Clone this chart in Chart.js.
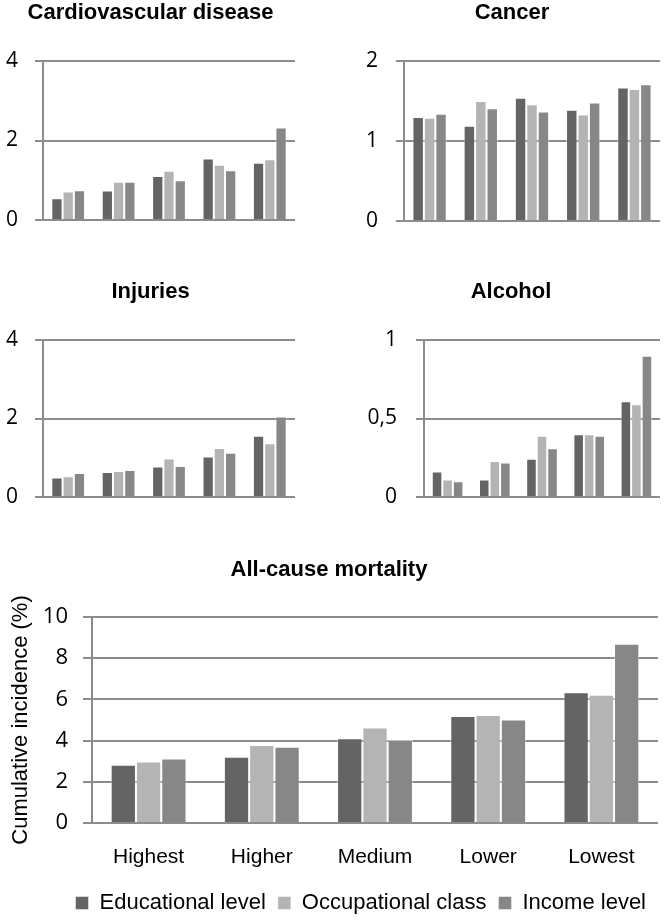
<!DOCTYPE html>
<html>
<head>
<meta charset="utf-8">
<title>Cumulative incidence by socioeconomic position</title>
<script src="https://cdn.jsdelivr.net/npm/chart.js@4.4.1/dist/chart.umd.min.js"></script>
<style>
html, body { margin: 0; padding: 0; background: #fff; overflow: hidden; }
body { width: 666px; height: 921px; position: relative; }
canvas { position: absolute; }
#cvd { left: 6px; top: 0; }
#cancer { left: 364px; top: 0; }
#injuries { left: 6px; top: 270px; }
#alcohol { left: 362px; top: 270px; }
#allcause { left: 0; top: 540px; }
</style>
</head>
<body>
<canvas id="cvd" width="289" height="260"></canvas>
<canvas id="cancer" width="296" height="261"></canvas>
<canvas id="injuries" width="289" height="267"></canvas>
<canvas id="alcohol" width="298" height="267"></canvas>
<canvas id="allcause" width="666" height="384"></canvas>
<script>
// categories and series
var groups = ['Highest', 'Higher', 'Medium', 'Lower', 'Lowest'];
var seriesNames = ['Educational level', 'Occupational class', 'Income level'];

// cumulative incidence (%)
var cvdEdu = [0.55, 0.74, 1.11, 1.55, 1.44];
var cvdOcc = [0.72, 0.96, 1.24, 1.39, 1.53];
var cvdInc = [0.75, 0.96, 1.00, 1.25, 2.33];

var cancerEdu = [1.30, 1.19, 1.54, 1.39, 1.67];
var cancerOcc = [1.29, 1.50, 1.46, 1.33, 1.65];
var cancerInc = [1.34, 1.41, 1.37, 1.48, 1.71];

var injEdu = [0.50, 0.64, 0.78, 1.03, 1.56];
var injOcc = [0.53, 0.66, 0.98, 1.25, 1.37];
var injInc = [0.61, 0.69, 0.79, 1.13, 2.05];

var alcEdu = [0.163, 0.112, 0.243, 0.40, 0.61];
var alcOcc = [0.112, 0.23, 0.39, 0.40, 0.59];
var alcInc = [0.10, 0.22, 0.31, 0.39, 0.90];

var allEdu = [2.83, 3.21, 4.11, 5.19, 6.35];
var allOcc = [2.98, 3.79, 4.63, 5.24, 6.22];
var allInc = [3.13, 3.70, 4.03, 5.02, 8.70];

var colors = ['#646464', '#b4b4b4', '#878787'];
var gridColor = '#8c8c8c';
var sansFont = "'Liberation Sans', Arial, sans-serif";
var numFont = "'Open Sans', 'Noto Sans', sans-serif";

Chart.defaults.animation = false;
Chart.defaults.color = '#000';

function makeSets(a, b, c) {
	return [a, b, c].map(function(vals, i) {
		return {
			label: seriesNames[i],
			data: vals,
			backgroundColor: colors[i],
			borderColor: 'rgba(255,255,255,0.45)',
			borderWidth: 1,
			categoryPercentage: 0.67,
			barPercentage: 1
		};
	});
}

// small panel: title on top, y axis only
function panel(id, title, sets, yMax, yStep, o) {
	return new Chart(document.getElementById(id), {
		type: 'bar',
		data: { labels: groups, datasets: sets },
		options: {
			responsive: false,
			layout: { padding: 0 },
			plugins: {
				legend: { display: false },
				tooltip: { enabled: false },
				title: {
					display: true,
					text: title,
					font: { family: sansFont, size: 22, weight: 'bold' },
					color: '#000',
					padding: { top: o.titleTop, bottom: o.titleBottom }
				}
			},
			scales: {
				x: {
					grid: { display: false },
					border: { display: false },
					ticks: { display: false },
					afterFit: function(s) { s.height = 40; }
				},
				y: {
					min: 0,
					max: yMax,
					grid: { color: gridColor, lineWidth: 2, tickLength: 8, tickColor: gridColor },
					border: { color: gridColor, width: 2 },
					ticks: {
						stepSize: yStep,
						padding: o.tickPad,
						font: { family: numFont, size: 21 },
						callback: function(v) { return String(v).replace('.', ','); }
					},
					afterFit: function(s) { s.width = o.yWidth; }
				}
			}
		}
	});
}

panel('cvd', 'Cardiovascular disease', makeSets(cvdEdu, cvdOcc, cvdInc), 4, 2,
	{ titleTop: 0, titleBottom: 34.6, tickPad: 17, yWidth: 37 });
panel('cancer', 'Cancer', makeSets(cancerEdu, cancerOcc, cancerInc), 2, 1,
	{ titleTop: 0, titleBottom: 34.6, tickPad: 18, yWidth: 40 });
panel('injuries', 'Injuries', makeSets(injEdu, injOcc, injInc), 4, 2,
	{ titleTop: 9.2, titleBottom: 34.4, tickPad: 17, yWidth: 37 });
panel('alcohol', 'Alcohol', makeSets(alcEdu, alcOcc, alcInc), 1, 0.5,
	{ titleTop: 9.2, titleBottom: 34.4, tickPad: 19, yWidth: 62 });

// big panel with axis labels and legend
new Chart(document.getElementById('allcause'), {
	type: 'bar',
	data: { labels: groups, datasets: makeSets(allEdu, allOcc, allInc) },
	options: {
		responsive: false,
		layout: { padding: { left: 0, right: 8, top: 0, bottom: 0 } },
		plugins: {
			tooltip: { enabled: false },
			title: {
				display: true,
				text: 'All-cause mortality',
				font: { family: sansFont, size: 22, weight: 'bold' },
				color: '#000',
				padding: { top: 17.2, bottom: 33.4 }
			},
			legend: {
				position: 'bottom',
				align: 'end',
				labels: {
					boxWidth: 13,
					boxHeight: 13,
					padding: 12,
					color: '#000',
					font: { family: sansFont, size: 22 }
				}
			}
		},
		scales: {
			x: {
				grid: { display: false },
				border: { display: false },
				ticks: { padding: 14, font: { family: sansFont, size: 21 } },
				afterFit: function(s) { s.height = 57; }
			},
			y: {
				min: 0,
				max: 10,
				grid: { color: gridColor, lineWidth: 2, tickLength: 9, tickColor: gridColor },
				border: { color: gridColor, width: 2 },
				ticks: { stepSize: 2, padding: 15, font: { family: numFont, size: 22 } },
				title: {
					display: true,
					text: 'Cumulative incidence (%)',
					font: { family: sansFont, size: 22 },
					padding: { top: 8, bottom: 0 }
				},
				afterFit: function(s) { s.width = 92; }
			}
		}
	}
});
</script>
</body>
</html>
